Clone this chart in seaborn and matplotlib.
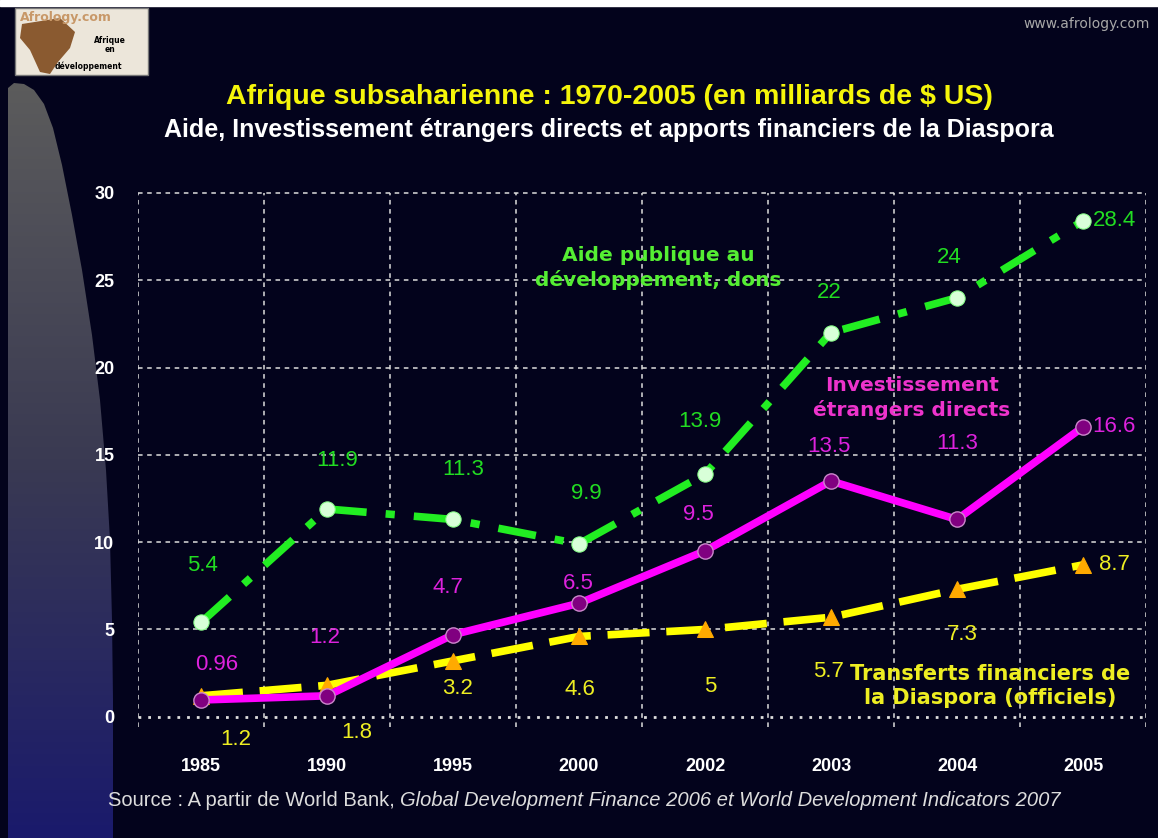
import matplotlib
matplotlib.use('Agg')
import matplotlib.pyplot as plt
import seaborn as sns
import pandas as pd
import numpy as np
from matplotlib.patches import Polygon, Rectangle
from matplotlib.colors import LinearSegmentedColormap

# Data (milliards de $ US)
years = ['1985', '1990', '1995', '2000', '2002', '2003', '2004', '2005']
aide = [5.4, 11.9, 11.3, 9.9, 13.9, 22, 24, 28.4]
ide = [0.96, 1.2, 4.7, 6.5, 9.5, 13.5, 11.3, 16.6]
diaspora = [1.2, 1.8, 3.2, 4.6, 5, 5.7, 7.3, 8.7]

aide_lbl = ['5.4', '11.9', '11.3', '9.9', '13.9', '22', '24', '28.4']
ide_lbl = ['0.96', '1.2', '4.7', '6.5', '9.5', '13.5', '11.3', '16.6']
dias_lbl = ['1.2', '1.8', '3.2', '4.6', '5', '5.7', '7.3', '8.7']

df = pd.DataFrame({'annee': years, 'aide': aide, 'ide': ide, 'diaspora': diaspora})

BG = '#03031c'
W, H = 1158, 838
fig = plt.figure(figsize=(W / 100, H / 100), dpi=100, facecolor=BG)

# decorative background layer in pixel coordinates
bg = fig.add_axes([0, 0, 1, 1], zorder=0)
bg.set_xlim(0, W)
bg.set_ylim(H, 0)
bg.axis('off')
bg.add_patch(Rectangle((0, 0), W, 6, color='white'))
cmap = LinearSegmentedColormap.from_list('g', ['#5c5c5c', '#3a3a52', '#1a1a6c'])
grad = np.linspace(0, 1, 256).reshape(-1, 1)
img = bg.imshow(grad, cmap=cmap, extent=[0, 120, H, 80], aspect='auto')
shape = Polygon([(8, 838), (8, 88), (14, 83), (24, 84), (34, 90), (44, 104), (53, 128),
                 (62, 165), (72, 215), (82, 270), (92, 335), (100, 400), (106, 470),
                 (110, 540), (112, 620), (113, 700), (113, 838)], closed=True,
                facecolor='none', edgecolor='none')
bg.add_patch(shape)
img.set_clip_path(shape)

# logo
bg.add_patch(Rectangle((15, 8), 133, 67, facecolor='#ece6da', edgecolor='#777777', lw=1))
bg.add_patch(Polygon([(22, 24), (60, 18), (75, 32), (70, 48), (58, 62), (50, 74), (40, 72),
                      (30, 50), (20, 38)], closed=True, facecolor='#8a5a30', edgecolor='none'))
bg.text(20, 17, 'Afrology.com', color='#c89868', fontsize=9, fontweight='bold', va='center')
bg.text(110, 45, 'Afrique\nen', color='black', fontsize=5.5, fontweight='bold',
        ha='center', va='center', linespacing=1.1)
bg.text(88, 66, 'développement', color='black', fontsize=5.5, fontweight='bold',
        ha='center', va='center')
bg.text(1150, 24, 'www.afrology.com', color='#a8a8a8', fontsize=10, ha='right', va='center')

# titles
bg.text(609, 97, 'Afrique subsaharienne : 1970-2005 (en milliards de $ US)', color='#f5f50a',
        fontsize=20.5, fontweight='bold', ha='center', va='center', family='Liberation Sans')
bg.text(609, 130, 'Aide, Investissement étrangers directs et apports financiers de la Diaspora',
        color='white', fontsize=18, fontweight='bold', ha='center', va='center',
        family='Liberation Sans')

# main chart
ax = fig.add_axes([138 / W, 0.1301, 1008 / W, 0.6438], zorder=2)
ax.set_facecolor('none')
for s in ax.spines.values():
    s.set_visible(False)

sns.lineplot(data=df, x='annee', y='diaspora', ax=ax, color='#ffff00', lw=5.5,
             linestyle=(0, (5.5, 2.2)), marker='^', markersize=11,
             markerfacecolor='#ffaa00', markeredgecolor='#ffaa00', sort=False, zorder=3)
sns.lineplot(data=df, x='annee', y='ide', ax=ax, color='#ff00ff', lw=5.5,
             marker='o', markersize=11, markerfacecolor='#800080',
             markeredgecolor='#cc88cc', markeredgewidth=1, sort=False, zorder=4)
sns.lineplot(data=df, x='annee', y='aide', ax=ax, color='#22ee22', lw=5.5,
             linestyle=(0, (5, 2.5, 1.2, 2.5)), marker='o', markersize=11,
             markerfacecolor='#d8ffd8', markeredgecolor='#88ff88', sort=False, zorder=5)

ax.set_xlim(-0.5, 7.5)
ax.set_ylim(-0.7, 30.2)

# grid
for yv in [5, 10, 15, 20, 25, 30]:
    ax.plot([-0.5, 7.5], [yv, yv], color='#dddddd', lw=1.1, ls=(0, (3, 3)), zorder=1)
ax.plot([-0.5, 7.5], [0, 0], color='#dddddd', lw=2, ls=(0, (1, 2.5)), zorder=1)
for xv in np.arange(-0.5, 8, 1):
    ax.plot([xv, xv], [-0.6, 30], color='#dddddd', lw=1.1, ls=(0, (3, 3)), zorder=1)

ax.set_yticks([0, 5, 10, 15, 20, 25, 30])
ax.set_yticklabels(['0', '5', '10', '15', '20', '25', '30'])
ax.tick_params(axis='both', length=0, colors='white')
ax.tick_params(axis='y', pad=17)
ax.tick_params(axis='x', pad=21)
for t in ax.get_xticklabels() + ax.get_yticklabels():
    t.set_family('Liberation Sans')
    t.set_fontweight('bold')
    t.set_fontsize(13)
    t.set_color('white')
ax.set_xlabel('')
ax.set_ylabel('')

# value labels (offsets in pixels)
aide_off = [(1, -57), (10, -48), (10, -50), (7, -50), (-5, -53), (-2, -40), (-8, -40), (31, 0)]
ide_off = [(16, -35), (-2, -58), (-5, -47), (-1, -20), (-7, -36), (-2, -35), (0, -76), (31, 0)]
dias_off = [(35, 44), (30, 47), (5, 28), (1, 53), (5, 57), (-2, 54), (5, 45), (31, 0)]
for vals, lbls, offs, col in [(aide, aide_lbl, aide_off, '#22dd22'),
                              (ide, ide_lbl, ide_off, '#dd22dd'),
                              (diaspora, dias_lbl, dias_off, '#eeee22')]:
    for i, (v, t, o) in enumerate(zip(vals, lbls, offs)):
        ax.annotate(t, (i, v), xytext=(o[0], -o[1]), textcoords='offset pixels',
                    ha='center', va='center', color=col, fontsize=16,
                    family='Liberation Sans', zorder=6)

# series names
ax.annotate('Aide publique au\ndéveloppement, dons', xy=(658 / W, 1 - 268 / H),
            xycoords='figure fraction', ha='center', va='center', color='#55ee33',
            fontsize=14.5, fontweight='bold', linespacing=1.3)
ax.annotate('Investissement\nétrangers directs', xy=(912 / W, 1 - 398 / H),
            xycoords='figure fraction', ha='center', va='center', color='#ee33cc',
            fontsize=14.5, fontweight='bold', linespacing=1.3)
ax.annotate('Transferts financiers de\nla Diaspora (officiels)', xy=(990 / W, 1 - 686 / H),
            xycoords='figure fraction', ha='center', va='center', color='#eeee22',
            fontsize=15, fontweight='bold', linespacing=1.3)

# source line: plain part then italic part
fig.canvas.draw()
r = fig.canvas.get_renderer()
t1 = fig.text(108 / W, 1 - 800 / H, 'Source : A partir de World Bank, ', color='#dddddd',
              fontsize=14.5, va='center', family='Liberation Sans')
bb = t1.get_window_extent(renderer=r)
fig.text(bb.x1 / W, 1 - 800 / H,
         'Global Development Finance 2006 et World Development Indicators 2007',
         color='#dddddd', fontsize=14.5, va='center', style='italic', family='Liberation Sans')

fig.savefig('out.png', dpi=100, facecolor=BG)
